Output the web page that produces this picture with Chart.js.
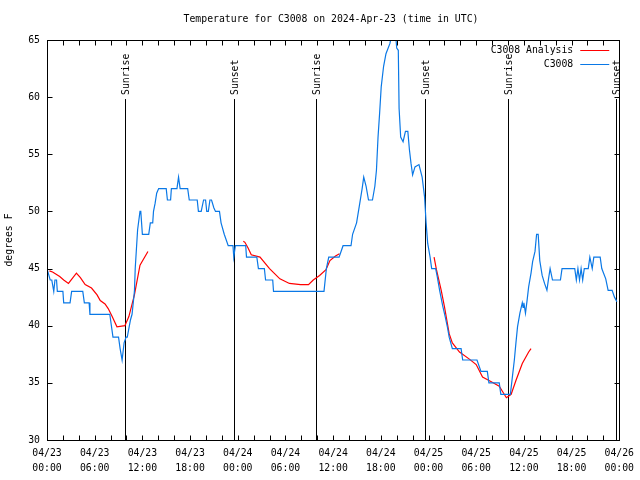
<!DOCTYPE html>
<html>
<head>
<meta charset="utf-8">
<script src="https://cdn.jsdelivr.net/npm/chart.js@4.4.1/dist/chart.umd.min.js"></script>
<style>
  html, body { margin: 0; padding: 0; background: #fff; }
</style>
</head>
<body>
<canvas id="chart" width="640" height="480"></canvas>
<script>
// hours since 04/23 00:00 UTC
const blueHours = [0, 0.4, 0.6, 0.85, 1.0, 1.2, 1.3, 2.0, 2.1, 2.9, 3.1, 4.5, 4.7, 5.3, 5.4, 7.9, 8.3, 9.0, 9.2, 9.45,
  9.7, 9.95, 10.1, 10.5, 10.7, 11.0, 11.1, 11.4, 11.7, 11.8, 12.0, 12.8, 13.0, 13.3, 13.4, 13.6, 13.8, 14.05, 15.0, 15.15,
  15.55, 15.65, 16.35, 16.55, 16.75, 17.7, 17.9, 18.9, 19.05, 19.4, 19.7, 19.95, 20.1, 20.3, 20.5, 20.7, 21.0, 21.2, 21.7, 21.9,
  22.3, 22.8, 23.4, 23.5, 23.7, 25.0, 25.1, 26.4, 26.6, 27.35, 27.5, 28.4, 28.5, 34.85, 35.15, 35.45, 36.75, 37.25, 38.25, 38.45,
  38.95, 39.35, 39.65, 39.85, 40.15, 40.45, 40.95, 41.25, 41.45, 41.65, 41.85, 42.05, 42.35, 42.65, 43.15, 43.5, 43.8, 44.0, 44.2, 44.3,
  44.5, 44.8, 45.1, 45.4, 45.6, 45.8, 46.0, 46.3, 46.8, 47.2, 47.5, 47.7, 47.9, 48.2, 48.4, 48.9, 49.1, 49.4, 49.8, 50.1,
  50.4, 50.6, 51.0, 52.1, 52.3, 54.1, 54.6, 55.4, 55.6, 56.9, 57.1, 58.3, 58.5, 58.8, 59.0, 59.2, 59.5, 59.8, 59.9, 60.0,
  60.2, 60.4, 60.6, 60.9, 61.1, 61.4, 61.6, 61.8, 62.0, 62.3, 62.6, 62.9, 63.1, 63.3, 63.6, 64.6, 64.8, 66.4, 66.6, 66.8,
  67.0, 67.2, 67.4, 67.6, 68.1, 68.3, 68.6, 68.8, 69.6, 69.8, 70.3, 70.6, 71.1, 71.4, 71.7];
const blueTemps = [45, 44, 44, 43, 44, 44, 43, 43, 42, 42, 43, 43, 42, 42, 41, 41, 39, 39, 38, 37,
  38.5, 39, 39, 40.5, 41, 43, 45, 48.4, 50, 50, 48, 48, 49, 49, 50, 50.7, 51.6, 52, 52, 51,
  51, 52, 52, 53, 52, 52, 51, 51, 50, 50, 51, 51, 50, 50, 51, 51, 50.3, 50, 50, 49,
  48, 47, 47, 46, 47, 47, 46, 46, 45, 45, 44, 44, 43, 43, 45, 46, 46, 47, 47, 48,
  49, 50.7, 52, 53, 52.2, 51, 51, 52.2, 53.6, 56.5, 58.6, 60.9, 62.7, 63.8, 64.7, 66, 66, 64.3, 64.1, 59,
  56.5, 56.1, 57, 57, 55.4, 54.2, 53.2, 53.9, 54.1, 53, 51.3, 49, 47.2, 46, 45, 45, 44.3, 43.1, 41.7, 40.8,
  39.8, 39, 38, 38, 37, 37, 36, 36, 35, 35, 34, 34, 35.2, 37, 38.5, 39.9, 41.1, 42, 41.6, 42,
  41.1, 42.2, 43.4, 44.6, 45.6, 46.5, 48, 48, 45.7, 44.4, 43.7, 43.1, 44.1, 45, 44, 44, 45, 45, 44, 45,
  44, 45, 44, 45, 45, 46, 45, 46, 46, 45, 44.1, 43.1, 43.1, 42.5, 42.1];

// analysis runs, null = gap between runs
const redHours = [0.3, 0.7, 1.6, 2.1, 2.7, 3.7, 4.2, 4.8, 5.6, 6.3, 6.7, 7.3, 7.7, 8.2, 8.8, 9.8, 10.3, 11.0, 11.7, 12.7,
  18,
  24.7, 24.9, 25.3, 25.7, 26.8, 28.0, 29.3, 30.5, 31.9, 32.9, 33.5, 34.3, 35.1, 35.6, 36.3, 36.8,
  42,
  48.7, 49.0, 49.6, 50.0, 50.6, 51.0, 51.9, 53.1, 54.0, 54.8, 55.9, 56.9, 57.8, 58.4, 59.0, 59.8, 60.6, 60.9];
const redTemps = [44.8, 44.7, 44.3, 44.0, 43.7, 44.6, 44.2, 43.6, 43.3, 42.7, 42.2, 41.9, 41.5, 40.8, 39.9, 40.0, 40.8, 42.7, 45.3, 46.5,
  null,
  47.4, 47.3, 46.8, 46.2, 46.0, 45.0, 44.1, 43.7, 43.6, 43.6, 44.0, 44.4, 44.9, 45.7, 46.1, 46.3,
  null,
  46.0, 44.9, 43.1, 41.7, 39.3, 38.5, 37.7, 37.1, 36.6, 35.5, 35.1, 34.7, 33.7, 34.0, 35.2, 36.7, 37.7, 38.0];

const sunHours = [9.86, 23.53, 33.86, 47.55, 57.95, 71.65];
const sunNames = ['Sunrise', 'Sunset', 'Sunrise', 'Sunset', 'Sunrise', 'Sunset'];
const sunTop = 59.8;

const tickDates = ['04/23', '04/23', '04/23', '04/23', '04/24', '04/24', '04/24', '04/24', '04/25', '04/25', '04/25', '04/25', '04/26'];
const tickTimes = ['00:00', '06:00', '12:00', '18:00', '00:00', '06:00', '12:00', '18:00', '00:00', '06:00', '12:00', '18:00', '00:00'];

const FAMILY = '"DejaVu Sans Mono", monospace';
const FSIZE = 9.8;
const FONT = FSIZE + 'px ' + FAMILY;
const TITLE = 'Temperature for C3008 on 2024-Apr-23 (time in UTC)';

function pts (hours, temps)
{
   let out = new Array ();
   for (let n = 0; n < hours.length; n++)
       out.push ({ x: hours [n], y: temps [n] });
   return out;
}

// frame, inward tics, sun markers, title and key, gnuplot style
const gnuplotBits = {
   id: 'gnuplotBits',
   beforeDatasetsDraw (chart)
   {
      let ctx = chart.ctx, a = chart.chartArea, xs = chart.scales.x, ys = chart.scales.y;
      ctx.save ();
      ctx.strokeStyle = '#000';
      ctx.lineWidth = 1;
      ctx.fillStyle = '#000';
      ctx.font = FONT;
      let yTop = Math.round (ys.getPixelForValue (sunTop));
      for (let n = 0; n < sunHours.length; n++)
      {
         let x = Math.round (xs.getPixelForValue (sunHours [n])) + 0.5;
         ctx.beginPath ();
         ctx.moveTo (x, a.bottom);
         ctx.lineTo (x, yTop);
         ctx.stroke ();
         ctx.save ();
         ctx.translate (x + 1, yTop - 4);
         ctx.rotate (-Math.PI / 2);
         ctx.textAlign = 'left';
         ctx.textBaseline = 'middle';
         ctx.fillText (sunNames [n], 0, 0);
         ctx.restore ();
      }
      ctx.restore ();
   },
   afterDraw (chart)
   {
      let ctx = chart.ctx, a = chart.chartArea, xs = chart.scales.x, ys = chart.scales.y;
      let L = Math.round (a.left) + 0.5, R = Math.round (a.right) + 0.5;
      let T = Math.round (a.top) + 0.5, B = Math.round (a.bottom) + 0.5;
      ctx.save ();
      ctx.strokeStyle = '#000';
      ctx.fillStyle = '#000';
      ctx.lineWidth = 1;
      ctx.strokeRect (L, T, R - L, B - T);
      ctx.beginPath ();
      for (let h = 2; h < 72; h += 2)
      {
         let x = Math.round (xs.getPixelForValue (h)) + 0.5;
         ctx.moveTo (x, B); ctx.lineTo (x, B - 5);
         ctx.moveTo (x, T); ctx.lineTo (x, T + 5);
      }
      for (let v = 35; v < 65; v += 5)
      {
         let y = Math.round (ys.getPixelForValue (v)) + 0.5;
         ctx.moveTo (L, y); ctx.lineTo (L + 5, y);
         ctx.moveTo (R, y); ctx.lineTo (R - 5, y);
      }
      ctx.stroke ();

      ctx.font = FONT;
      ctx.textAlign = 'center';
      ctx.textBaseline = 'middle';
      ctx.fillText (TITLE, 331, 19.5);

      // key, top right inside the plot
      let keyOrder = [1, 0];
      ctx.textAlign = 'right';
      for (let k = 0; k < keyOrder.length; k++)
      {
         let ds = chart.data.datasets [keyOrder [k]];
         let y = Math.round (a.top + 10 + k * 13.5) + 0.5;
         ctx.fillText (ds.label, a.right - 46, y);
         ctx.strokeStyle = ds.borderColor;
         ctx.beginPath ();
         ctx.moveTo (a.right - 39, y);
         ctx.lineTo (a.right - 10, y);
         ctx.stroke ();
      }
      ctx.restore ();
   }
};

let ctx = document.getElementById ('chart');
let chart = new Chart (ctx, {
   type: 'line',
   data: {
      datasets: [
         {
            label: 'C3008',
            data: pts (blueHours, blueTemps),
            borderColor: '#0a78e6',
            borderWidth: 1.2,
            pointRadius: 0,
            tension: 0,
            order: 0
         },
         {
            label: 'C3008 Analysis',
            data: pts (redHours, redTemps),
            borderColor: '#ff0000',
            borderWidth: 1.2,
            pointRadius: 0,
            tension: 0,
            spanGaps: false,
            order: 1
         }
      ]
   },
   options: {
      responsive: false,
      animation: false,
      devicePixelRatio: 1,
      layout: { padding: { top: 40, right: 20, left: 0, bottom: 0 } },
      plugins: {
         legend: { display: false },
         title: { display: false },
         tooltip: { enabled: false }
      },
      scales: {
         x: {
            type: 'linear',
            min: 0,
            max: 72,
            grid: { display: false, drawTicks: false },
            border: { display: false },
            ticks: {
               stepSize: 6,
               autoSkip: false,
               maxRotation: 0,
               padding: 6,
               color: '#000',
               font: { family: FAMILY, size: FSIZE, lineHeight: 1.5 },
               callback: function (v) {
                  let i = Math.round (v / 6);
                  return [tickDates [i], tickTimes [i]];
               }
            },
            afterFit: function (s) { s.height = 40; }
         },
         y: {
            min: 30,
            max: 65,
            grid: { display: false, drawTicks: false },
            border: { display: false },
            ticks: {
               stepSize: 5,
               padding: 7,
               color: '#000',
               font: { family: FAMILY, size: FSIZE }
            },
            title: {
               display: true,
               text: 'degrees F',
               color: '#000',
               font: { family: FAMILY, size: FSIZE },
               padding: { top: 4, bottom: 0 }
            },
            afterFit: function (s) { s.width = 47; }
         }
      }
   },
   plugins: [gnuplotBits]
});
</script>
</body>
</html>
